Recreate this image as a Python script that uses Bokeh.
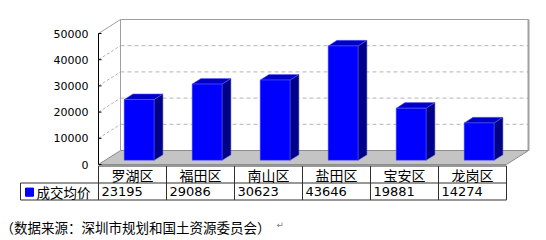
from bokeh.plotting import figure
from bokeh.models import Range1d
from bokeh.core.properties import value
from bokeh.embed import file_html
from bokeh.resources import INLINE

# ---- data ----
categories = ["罗湖区", "福田区", "南山区", "盐田区", "宝安区", "龙岗区"]
prices = [23195, 29086, 30623, 43646, 19881, 14274]
y_ticks = [0, 10000, 20000, 30000, 40000, 50000]
y_tick_labels = ["0", "10000", "20000", "30000", "40000", "50000"]
series_name = "成交均价"
source_note = "（数据来源：深圳市规划和国土资源委员会）"

# ---- geometry (pixels -> data units) ----
W, H = 546, 240
PX_CAT = 68.0             # px per category slot
PX_VAL = 131.0 / 50000    # px per value unit
ROW = 17.0                # px per table row
DEPTH_DX = 22.0 / PX_CAT  # depth offset in category units
DEPTH_DY = 14.0 / PX_VAL  # depth offset in value units
T0, TD = 0.3, 0.4         # bar depth start / thickness
BAR_W = 0.44
YMAX = y_ticks[-1]
N = len(categories)

p = figure(width=W, height=H, output_backend="svg", toolbar_location=None,
           x_axis_location=None, y_axis_location=None,
           min_border_left=0, min_border_right=0, min_border_top=0, min_border_bottom=0)
bx0 = -98 / PX_CAT
p.x_range = Range1d(bx0, bx0 + W / PX_CAT)
y_top = 164.0 / PX_VAL
p.y_range = Range1d(y_top - H / PX_VAL, y_top)
t_top = 165.5 / ROW
p.extra_y_ranges = {"tbl": Range1d(t_top - H / ROW, t_top)}
p.grid.visible = False
p.outline_line_color = None
p.background_fill_color = "white"
p.border_fill_color = "white"

grid_vals = [v for v in y_ticks if 0 < v < YMAX]
# back wall gridlines
p.segment(x0=[DEPTH_DX] * len(grid_vals), y0=[v + DEPTH_DY for v in grid_vals],
          x1=[N + DEPTH_DX] * len(grid_vals), y1=[v + DEPTH_DY for v in grid_vals],
          line_color="#b4b4b4", line_dash="4 3", line_width=1)
# side wall gridlines
p.segment(x0=[0] * len(grid_vals), y0=grid_vals,
          x1=[DEPTH_DX] * len(grid_vals), y1=[v + DEPTH_DY for v in grid_vals],
          line_color="#b4b4b4", line_dash="3 2", line_width=1)
# wall edges
p.line(x=[0, DEPTH_DX, N + DEPTH_DX], y=[YMAX, YMAX + DEPTH_DY, YMAX + DEPTH_DY],
       line_color="#a0a0a0", line_width=1)
p.line(x=[DEPTH_DX, DEPTH_DX], y=[DEPTH_DY, YMAX + DEPTH_DY], line_color="#a0a0a0", line_width=1)
p.line(x=[N + DEPTH_DX, N + DEPTH_DX], y=[DEPTH_DY, YMAX + DEPTH_DY],
       line_color="#a0a0a0", line_width=2)
# floor
p.patch(x=[0, N, N + DEPTH_DX, DEPTH_DX], y=[0, 0, DEPTH_DY, DEPTH_DY],
        fill_color="#c4c4c4", line_color="#8c8c8c", line_width=1)
# front value axis: line, ticks, labels
p.line(x=[0, 0], y=[0, YMAX], line_color="#000000", line_width=1)
p.segment(x0=[0] * len(y_ticks), y0=y_ticks, x1=[3 / PX_CAT] * len(y_ticks), y1=y_ticks,
          line_color="#000000", line_width=1)
p.text(x=[-10 / PX_CAT] * len(y_ticks), y=y_ticks, text=y_tick_labels,
       text_font=value("DejaVu Sans"), text_font_size=value("11px"),
       text_align="right", text_baseline="middle", text_color="#000000")

# bars
lefts, rights, bots, tops_ = [], [], [], []
side_xs, side_ys, top_xs, top_ys = [], [], [], []
for i, v in enumerate(prices):
    xl = i + 0.5 - BAR_W / 2 + T0 * DEPTH_DX
    xr = i + 0.5 + BAR_W / 2 + T0 * DEPTH_DX
    yb = T0 * DEPTH_DY
    yt = v + T0 * DEPTH_DY
    ddx, ddy = TD * DEPTH_DX, TD * DEPTH_DY
    lefts.append(xl); rights.append(xr); bots.append(yb); tops_.append(yt)
    side_xs.append([xr, xr + ddx, xr + ddx, xr])
    side_ys.append([yb, yb + ddy, yt + ddy, yt])
    top_xs.append([xl, xr, xr + ddx, xl + ddx])
    top_ys.append([yt, yt, yt + ddy, yt + ddy])
p.patches(xs=side_xs, ys=side_ys, fill_color="#000088", line_color="#4040c0", line_width=0.5)
p.patches(xs=top_xs, ys=top_ys, fill_color="#0000c8", line_color="#6060ff", line_width=0.5)
p.quad(left=lefts, right=rights, bottom=bots, top=tops_, fill_color="#0000ff",
       line_color="#6060ff", line_width=0.5)

# ---- data table (row units on the "tbl" range) ----
leg_left = -78 / PX_CAT
line_c = "#303030"
p.segment(x0=[0, leg_left, leg_left], y0=[0, -1, -2], x1=[N, N, N], y1=[0, -1, -2],
          line_color=line_c, line_width=1, y_range_name="tbl")
p.segment(x0=list(range(N + 1)), y0=[0] * (N + 1), x1=list(range(N + 1)), y1=[-2] * (N + 1),
          line_color=line_c, line_width=1, y_range_name="tbl")
p.segment(x0=[leg_left], y0=[-1], x1=[leg_left], y1=[-2], line_color=line_c, line_width=1,
          y_range_name="tbl")

p.text(x=[i + 0.5 for i in range(N)], y=[-0.5] * N, text=categories,
       text_font=value("Noto Sans CJK SC"), text_font_size=value("14px"),
       text_align="center", text_baseline="middle", text_color="#000000", y_range_name="tbl")
p.text(x=[i + 3 / PX_CAT for i in range(N)], y=[-1.5] * N, text=[str(v) for v in prices],
       text_font=value("DejaVu Sans"), text_font_size=value("13px"),
       text_align="left", text_baseline="middle", text_color="#000000", y_range_name="tbl")
# legend key
p.quad(left=[-73 / PX_CAT], right=[-65 / PX_CAT], bottom=[-1.78], top=[-1.3],
       fill_color="#0000ff", line_color="#0000ff", y_range_name="tbl")
p.text(x=[-62 / PX_CAT], y=[-1.5], text=[series_name],
       text_font=value("Noto Sans CJK SC"), text_font_size=value("13.5px"),
       text_align="left", text_baseline="middle", text_color="#000000", y_range_name="tbl")
# source note
p.text(x=[bx0], y=[-3.6], text=[source_note],
       text_font=value("Noto Sans CJK SC"), text_font_size=value("13.5px"),
       text_align="left", text_baseline="middle", text_color="#000000", y_range_name="tbl")
p.text(x=[bx0 + 276 / PX_CAT], y=[-3.45], text=["↵"],
       text_font=value("DejaVu Sans"), text_font_size=value("9px"),
       text_align="left", text_baseline="middle", text_color="#808080", y_range_name="tbl")

open("out.html", "w").write(file_html(p, INLINE))
